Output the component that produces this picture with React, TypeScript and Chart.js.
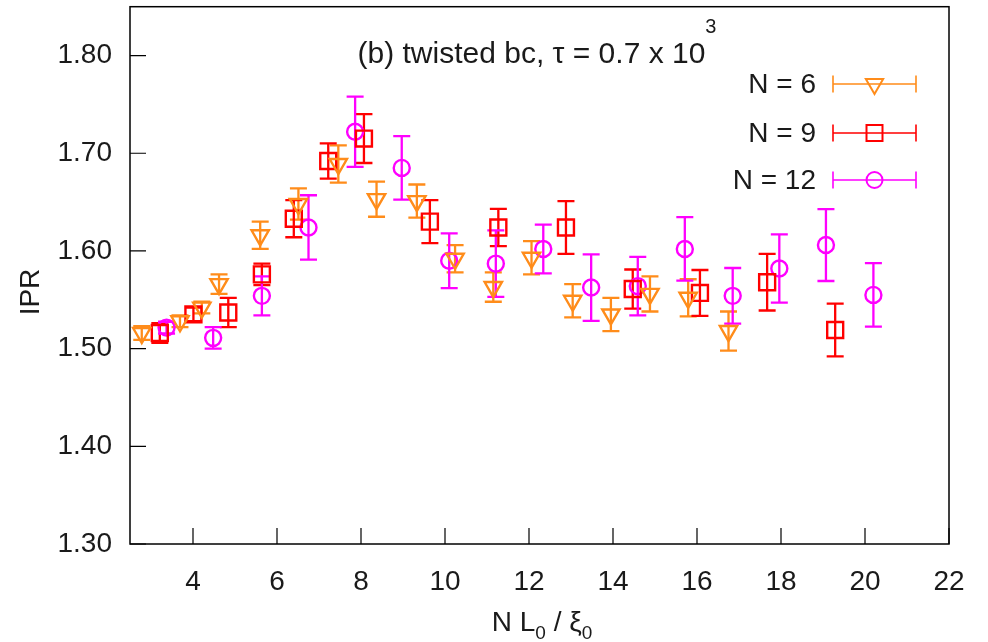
import React, { useEffect, useRef } from 'react';
import { Chart, registerables } from 'chart.js';

Chart.register(...registerables);

// ---- data ----
const xTicks = [4, 6, 8, 10, 12, 14, 16, 18, 20, 22];
const yTicks = [1.3, 1.4, 1.5, 1.6, 1.7, 1.8];

const n6X = [2.78, 3.69, 4.21, 4.62, 5.6, 6.51, 7.46, 8.37, 9.33, 10.24, 11.15, 12.06, 13.04, 13.95, 14.88, 15.79, 16.75];
const n6Y = [1.516, 1.528, 1.542, 1.566, 1.616, 1.648, 1.689, 1.653, 1.651, 1.592, 1.563, 1.593, 1.549, 1.535, 1.556, 1.552, 1.518];
const n6Err = [0.007, 0.006, 0.006, 0.01, 0.014, 0.016, 0.019, 0.018, 0.017, 0.014, 0.015, 0.017, 0.017, 0.017, 0.018, 0.019, 0.02];

const n9X = [3.21, 4.01, 4.84, 5.64, 6.4, 7.22, 8.07, 9.64, 11.27, 12.88, 14.47, 16.07, 17.67, 19.29];
const n9Y = [1.516, 1.535, 1.537, 1.576, 1.633, 1.692, 1.715, 1.63, 1.624, 1.624, 1.561, 1.557, 1.568, 1.519];
const n9Err = [0.01, 0.007, 0.015, 0.011, 0.019, 0.018, 0.025, 0.022, 0.019, 0.027, 0.02, 0.0235, 0.029, 0.027];

const n12X = [3.37, 4.48, 5.64, 6.75, 7.86, 8.97, 10.1, 11.21, 12.34, 13.48, 14.59, 15.71, 16.85, 17.96, 19.07, 20.2];
const n12Y = [1.5215, 1.511, 1.554, 1.624, 1.722, 1.685, 1.59, 1.587, 1.602, 1.5625, 1.564, 1.602, 1.554, 1.582, 1.606, 1.555];
const n12Err = [0.006, 0.011, 0.02, 0.033, 0.036, 0.0325, 0.028, 0.034, 0.025, 0.034, 0.03, 0.0325, 0.0285, 0.035, 0.0368, 0.0325];

const seriesLabels = ['N = 6', 'N = 9', 'N = 12'];
const seriesColors = ['#ff8c1a', '#ff0000', '#ff00ff'];
const seriesErrs = [n6Err, n9Err, n12Err];

const FONT = "'Liberation Sans', Arial, Helvetica, sans-serif";
const TEXT = '#1a1a1a';
const SHIFT = 7; // canvas is placed 7px above the page top

function toPoints(xs: number[], ys: number[]) {
  return xs.map((x, i) => ({ x, y: ys[i] }));
}

function zeroPad(s: any) {
  s.paddingTop = 0;
  s.paddingBottom = 0;
  s.paddingLeft = 0;
  s.paddingRight = 0;
}

function drawMarker(ctx: CanvasRenderingContext2D, kind: number, x: number, y: number) {
  ctx.beginPath();
  if (kind === 0) {
    const r = 10;
    ctx.moveTo(x - r * Math.sin(Math.PI / 3), y - r * 0.5);
    ctx.lineTo(x + r * Math.sin(Math.PI / 3), y - r * 0.5);
    ctx.lineTo(x, y + r);
    ctx.closePath();
  } else if (kind === 1) {
    const s = 8;
    ctx.rect(x - s, y - s, 2 * s, 2 * s);
  } else {
    ctx.arc(x, y, 8, 0, Math.PI * 2);
  }
  ctx.stroke();
}

const errorBarPlugin = {
  id: 'errorBars',
  beforeDatasetsDraw(chart: any) {
    const ctx = chart.ctx as CanvasRenderingContext2D;
    const xs = chart.scales.x;
    const ys = chart.scales.y;
    ctx.save();
    chart.data.datasets.forEach((ds: any, i: number) => {
      const errs = seriesErrs[i];
      ctx.strokeStyle = seriesColors[i];
      ctx.lineWidth = 2.3;
      ds.data.forEach((p: any, j: number) => {
        const px = xs.getPixelForValue(p.x);
        const yt = ys.getPixelForValue(p.y + errs[j]);
        const yb = ys.getPixelForValue(p.y - errs[j]);
        ctx.beginPath();
        ctx.moveTo(px, yt);
        ctx.lineTo(px, yb);
        ctx.moveTo(px - 8.5, yt);
        ctx.lineTo(px + 8.5, yt);
        ctx.moveTo(px - 8.5, yb);
        ctx.lineTo(px + 8.5, yb);
        ctx.stroke();
      });
    });
    ctx.restore();
  },
};

const decorPlugin = {
  id: 'decor',
  afterDraw(chart: any) {
    const ctx = chart.ctx as CanvasRenderingContext2D;
    const a = chart.chartArea;
    const xs = chart.scales.x;
    const ys = chart.scales.y;
    ctx.save();
    // frame
    ctx.strokeStyle = '#000';
    ctx.lineWidth = 1.5;
    ctx.strokeRect(a.left, a.top, a.right - a.left, a.bottom - a.top);
    // inward ticks
    ctx.lineWidth = 1.2;
    ctx.beginPath();
    yTicks.forEach((v) => {
      const py = ys.getPixelForValue(v);
      ctx.moveTo(a.left, py);
      ctx.lineTo(a.left + 16, py);
    });
    xTicks.forEach((v) => {
      const px = xs.getPixelForValue(v);
      ctx.moveTo(px, a.bottom);
      ctx.lineTo(px, a.bottom - 16);
    });
    ctx.stroke();

    // fixed-position texts, given in page coordinates
    ctx.translate(0, SHIFT);
    ctx.fillStyle = TEXT;
    // title
    const main = '(b) twisted bc, \u03c4 = 0.7 x 10';
    ctx.font = `30px ${FONT}`;
    const wMain = ctx.measureText(main).width;
    ctx.font = `20px ${FONT}`;
    const wSup = ctx.measureText('3').width;
    const start = 537 - (wMain + wSup) / 2;
    ctx.textAlign = 'left';
    ctx.textBaseline = 'alphabetic';
    ctx.font = `30px ${FONT}`;
    ctx.fillText(main, start, 63);
    ctx.font = `20px ${FONT}`;
    ctx.fillText('3', start + wMain, 33);

    // legend
    const rowY = [84, 133, 180];
    seriesLabels.forEach((lab, i) => {
      const y = rowY[i];
      ctx.font = `28px ${FONT}`;
      ctx.textAlign = 'right';
      ctx.textBaseline = 'middle';
      ctx.fillStyle = TEXT;
      ctx.fillText(lab, 816, y + 1);
      ctx.strokeStyle = seriesColors[i];
      ctx.lineWidth = 1.6;
      ctx.beginPath();
      ctx.moveTo(833, y);
      ctx.lineTo(916, y);
      ctx.moveTo(833, y - 8.5);
      ctx.lineTo(833, y + 8.5);
      ctx.moveTo(916, y - 8.5);
      ctx.lineTo(916, y + 8.5);
      ctx.stroke();
      ctx.lineWidth = 2;
      drawMarker(ctx, i, 874.5, y);
    });

    // y axis title
    ctx.save();
    ctx.translate(31, 292);
    ctx.rotate(-Math.PI / 2);
    ctx.font = `28px ${FONT}`;
    ctx.textAlign = 'center';
    ctx.textBaseline = 'middle';
    ctx.fillStyle = TEXT;
    ctx.fillText('IPR', 0, 0);
    ctx.restore();

    // x axis title: N L0 / xi0 with subscripts
    const parts: [string, boolean][] = [['N L', false], ['0', true], [' / \u03be', false], ['0', true]];
    let total = 0;
    const widths = parts.map(([t, sub]) => {
      ctx.font = sub ? `19px ${FONT}` : `28px ${FONT}`;
      const w = ctx.measureText(t).width;
      total += w;
      return w;
    });
    let x = 542 - total / 2;
    ctx.textAlign = 'left';
    ctx.textBaseline = 'alphabetic';
    parts.forEach(([t, sub], i) => {
      ctx.font = sub ? `19px ${FONT}` : `28px ${FONT}`;
      ctx.fillText(t, x, sub ? 639 : 631);
      x += widths[i];
    });
    ctx.restore();
  },
};

export default function App() {
  const ref = useRef<HTMLCanvasElement | null>(null);

  useEffect(() => {
    if (!ref.current) return;
    Chart.defaults.font.family = FONT;
    const chart = new Chart(ref.current, {
      type: 'scatter',
      data: {
        datasets: [
          {
            label: seriesLabels[0],
            data: toPoints(n6X, n6Y),
            pointStyle: 'triangle',
            rotation: 180,
            pointRadius: 10,
            borderColor: seriesColors[0],
            backgroundColor: 'rgba(0,0,0,0)',
            borderWidth: 2.4,
          },
          {
            label: seriesLabels[1],
            data: toPoints(n9X, n9Y),
            pointStyle: 'rect',
            pointRadius: 11.3,
            borderColor: seriesColors[1],
            backgroundColor: 'rgba(0,0,0,0)',
            borderWidth: 2.4,
          },
          {
            label: seriesLabels[2],
            data: toPoints(n12X, n12Y),
            pointStyle: 'circle',
            pointRadius: 8,
            borderColor: seriesColors[2],
            backgroundColor: 'rgba(0,0,0,0)',
            borderWidth: 2.4,
          },
        ],
      },
      options: {
        animation: false,
        responsive: true,
        maintainAspectRatio: false,
        layout: { padding: { left: 0, top: 7, right: 39, bottom: 0 } },
        plugins: {
          legend: { display: false },
          tooltip: { enabled: false },
          title: { display: false },
        },
        scales: {
          x: {
            type: 'linear',
            min: 2.5,
            max: 22,
            grid: { display: false, drawTicks: false },
            border: { display: false },
            afterBuildTicks: (s: any) => {
              s.ticks = xTicks.map((v) => ({ value: v }));
            },
            afterFit: (s: any) => {
              s.height = 98;
              zeroPad(s);
            },
            ticks: {
              autoSkip: false,
              maxRotation: 0,
              padding: 21,
              color: TEXT,
              font: { size: 28, family: FONT },
              callback: (v: any) => String(v),
            },
          },
          y: {
            type: 'linear',
            min: 1.3,
            max: 1.85,
            grid: { display: false, drawTicks: false },
            border: { display: false },
            afterBuildTicks: (s: any) => {
              s.ticks = yTicks.map((v) => ({ value: v }));
            },
            afterFit: (s: any) => {
              s.width = 130;
              zeroPad(s);
            },
            ticks: {
              padding: 18,
              color: TEXT,
              font: { size: 28, family: FONT },
              callback: (v: any) => Number(v).toFixed(2),
            },
          },
        },
      },
      plugins: [errorBarPlugin, decorPlugin],
    } as any);
    return () => chart.destroy();
  }, []);

  return (
    <div style={{ position: 'fixed', left: 0, top: 0, width: 988, height: 642, overflow: 'hidden', background: '#fff' }}>
      <div style={{ position: 'absolute', left: 0, top: -SHIFT, width: 988, height: 642 + SHIFT }}>
        <canvas ref={ref} />
      </div>
    </div>
  );
}
